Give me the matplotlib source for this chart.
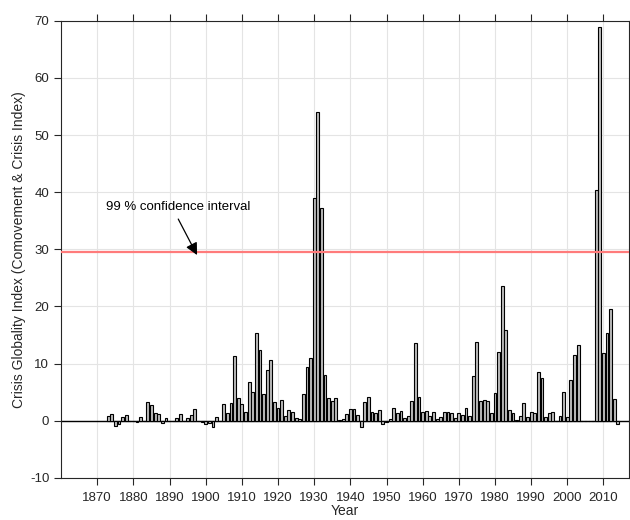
import matplotlib
matplotlib.use('Agg')
import matplotlib.pyplot as plt

plt.rcParams['font.family'] = ['Liberation Sans', 'DejaVu Sans']
plt.rcParams['axes.unicode_minus'] = False

years = list(range(1873, 2015))

# crisis globality index, one value per year (1873-2014)
index_values = [
    0.9, 1.2, -1.0, -0.5, 0.65, 1.05, 0.0,                      # 1873-1879
    0.0, -0.3, 0.7, 0.0, 3.2, 2.7, 1.35, 1.2, -0.4, 0.5,        # 1880s
    0.0, 0.0, 0.5, 1.2, 0.0, 0.5, 1.0, 2.0, 0.0, -0.3,          # 1890s
    -0.5, -0.4, -1.1, 0.6, 0.0, 2.9, 1.4, 3.1, 11.4, 4.0,       # 1900s
    3.0, 1.5, 6.8, 5.0, 15.3, 12.3, 4.7, 8.8, 10.7, 3.2,        # 1910s
    2.3, 3.6, 0.9, 1.9, 1.6, 0.5, 0.25, 4.7, 9.4, 11.0,         # 1920s
    39.0, 54.1, 37.2, 8.0, 4.0, 3.5, 4.0, 0.1, 0.3, 1.2,        # 1930s
    2.0, 2.0, 1.0, -1.1, 3.3, 4.2, 1.5, 1.35, 1.8, -0.6,        # 1940s
    -0.2, 0.3, 2.2, 1.35, 1.7, 0.5, 0.75, 3.4, 13.6, 4.15,      # 1950s
    1.45, 1.7, 0.75, 1.5, 0.35, 0.65, 1.6, 1.6, 1.35, 0.5,      # 1960s
    1.3, 1.05, 2.3, 0.75, 7.9, 13.8, 3.4, 3.7, 3.5, 1.35,       # 1970s
    4.85, 12.0, 23.5, 15.9, 1.9, 1.35, 0.1, 0.85, 3.1, 0.6,     # 1980s
    1.5, 1.4, 8.5, 7.5, 0.6, 1.3, 1.5, 0.0, 0.8, 5.1,           # 1990s
    0.65, 7.2, 11.5, 13.3, 0.0, 0.0, 0.0, 0.0, 40.3, 68.9,      # 2000s
    11.9, 15.4, 19.6, 3.8, -0.5,                                # 2010-2014
]

confidence_level = 29.6
x_ticks = list(range(1870, 2011, 10))
y_ticks = list(range(-10, 71, 10))

fig = plt.figure(figsize=(6.3, 5.2), dpi=100)
ax = fig.add_axes([0.097, 0.081, 0.901, 0.879])

ax.grid(True, color='#e4e4e4', linewidth=0.8)
ax.set_axisbelow(True)

ax.axhline(0, color='black', linewidth=1.0, zorder=1.5)
ax.bar(years, index_values, width=0.8, color='#bdbdbd',
       edgecolor='black', linewidth=0.8, zorder=2)

# threshold line
ax.axhline(confidence_level, color='#ff7b7b', linewidth=1.6, zorder=3)

ax.annotate('', xy=(1897.6, 29.0), xytext=(1892.4, 35.3),
            arrowprops=dict(arrowstyle='-|>', color='black', lw=0.9,
                            mutation_scale=18, shrinkA=0, shrinkB=0),
            zorder=4)
ax.text(1872.4, 37.4, '99 % confidence interval', fontsize=9.5,
        va='center', ha='left')

ax.set_xlim(1860, 2017)
ax.set_ylim(-10, 70)
ax.set_xticks(x_ticks)
ax.set_yticks(y_ticks)
ax.tick_params(direction='out', length=5, width=0.8, labelsize=9.5,
               colors='#262626', top=True, labeltop=False)
ax.tick_params(axis='x', pad=5)
for spine in ax.spines.values():
    spine.set_color('#262626')
    spine.set_linewidth(0.8)

ax.set_xlabel('Year', fontsize=10, color='#262626', labelpad=0)
ax.set_ylabel('Crisis Globality Index (Comovement & Crisis Index)',
              fontsize=10, color='#262626', labelpad=3)

fig.savefig('out.png', dpi=100)
